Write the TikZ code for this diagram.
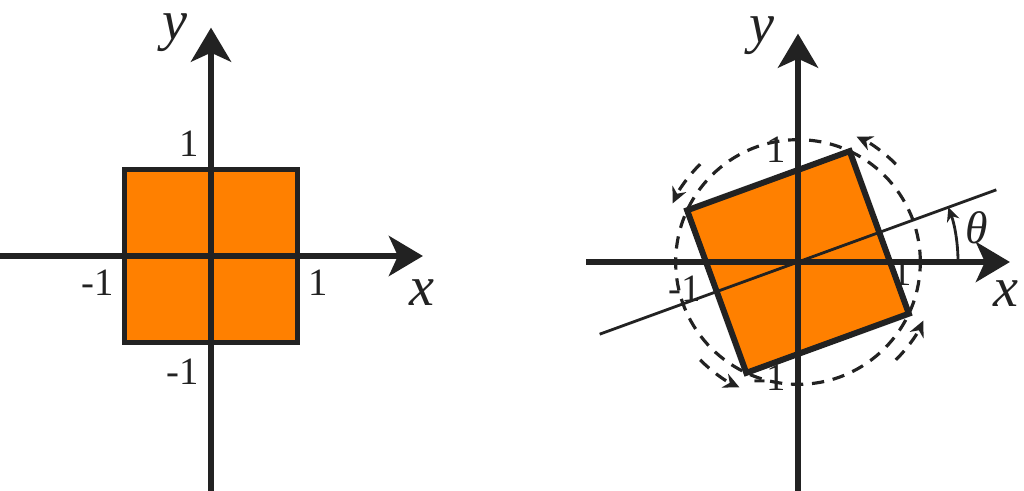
\documentclass[tikz,border=0pt]{standalone}
\usepackage{fontspec}
\setmainfont{Liberation Serif}
\usepackage{xcolor}
\usepackage{tikz}
\usetikzlibrary{arrows.meta}
\definecolor{naranja}{HTML}{FF8000}
\definecolor{trazo}{HTML}{222222}

\begin{document}
\begin{tikzpicture}[
        eje/.style={line width=1.7pt, color=trazo, -{Stealth[length=3.4mm, width=4mm, inset=0.9mm]}},
        cuadro/.style={fill=naranja, draw=trazo, line width=1.7pt},
        marca/.style={font=\fontsize{11}{13}\selectfont, text=trazo, inner sep=0pt},
        letra/.style={font=\fontsize{16}{19}\selectfont\itshape, text=trazo, inner sep=0pt},
        giro/.style={dash pattern=on 3.5pt off 2.5pt, line width=0.9pt, color=trazo},
        flecha/.style={giro, -{Stealth[length=1.6mm, width=1.5mm]}}
    ]
    \useasboundingbox (0,0) rectangle (10.24,4.90);

    % Cuadrado original
    \begin{scope}[shift={(2.11cm,2.34cm)}, x=0.865cm, y=0.865cm]
        \node[marca, anchor=east] (izqA) at (-1.12,-0.31) {-1};
        \node[marca, anchor=west] (derA) at (1.12,-0.31) {1};
        \node[marca, anchor=east] (arrA) at (-0.13,1.30) {1};
        \node[marca, anchor=east] (abaA) at (-0.13,-1.34) {-1};
        \draw[cuadro] (-1,-1) rectangle (1,1);
        % Ejes
        \draw[eje] (-2.45,0) -- (2.45,0);
        \draw[eje] (0,-2.75) -- (0,2.64);
        \node[letra] (xA) at (2.44,-0.42) {x};
        \node[letra] (yA) at (-0.42,2.58) {y};
    \end{scope}

    % Cuadrado girado
    \begin{scope}[shift={(7.98cm,2.28cm)}, x=0.865cm, y=0.865cm]
        \node[marca, anchor=east] (izqB) at (-1.12,-0.31) {-1};
        \node[marca, anchor=west] (derB) at (1.08,-0.12) {1};
        \node[marca, anchor=east] (arrB) at (-0.13,1.30) {1};
        \node[marca, anchor=east] (abaB) at (-0.13,-1.34) {-1};
        \draw[cuadro] (65:1.414) -- (155:1.414) -- (245:1.414) -- (335:1.414) -- cycle;
        % Ejes
        \draw[eje] (-2.45,0) -- (2.45,0);
        \draw[eje] (0,-2.75) -- (0,2.64);
        \node[letra] (xB) at (2.40,-0.36) {x};
        \node[letra] (yB) at (-0.42,2.62) {y};
        % Eje girado y circulo
        \draw[line width=0.8pt, trazo] (200:2.44) -- (20:2.44);
        \draw[giro] (0,0) circle (1.414);
        \foreach \a in {45,135,225,315}
            \draw[flecha] (\a:1.6) arc[start angle=\a, delta angle=20, radius=1.6];
        % Angulo
        \draw[line width=0.8pt, trazo, -{Stealth[length=1.4mm, width=1.3mm]}] (0:1.85) arc[start angle=0, delta angle=20, radius=1.85];
        \node[font=\fontsize{13}{15}\selectfont\itshape, text=trazo, inner sep=0pt] (theta) at (2.07,0.40) {θ};
    \end{scope}
\end{tikzpicture}
\end{document}
